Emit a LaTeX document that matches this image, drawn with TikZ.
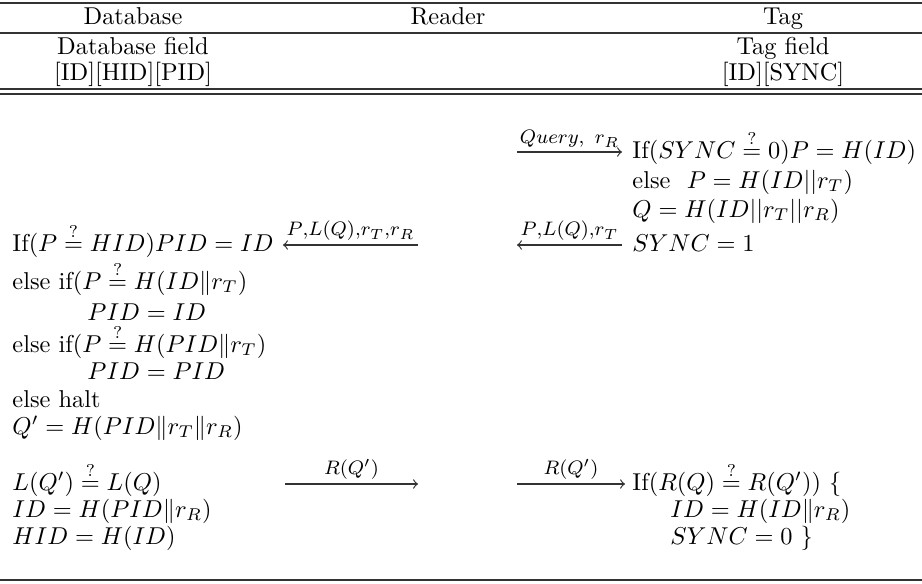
\documentclass[tikz,border=0pt]{standalone}
\usepackage{amsmath,amssymb}
\usepackage{tikz}
\usetikzlibrary{arrows}
\newcommand{\qeq}{\mathrel{\smash{\stackrel{?}{=}}}}

\begin{document}
\begin{tikzpicture}[x=0.41pt, y=-0.41pt]
	% STYLES
	\tikzstyle{regle} = [line width=0.5pt, draw=black!80]
	\tikzstyle{grosregle} = [line width=0.8pt, draw=black!80]
	\tikzstyle{titre} = [anchor=base, inner sep=0pt]
	\tikzstyle{ligne} = [anchor=base west, inner sep=0pt]
	\tikzstyle{msg} = [line width=0.5pt, ->, draw=black!80]
	\tikzstyle{etiq} = [above, inner sep=1.5pt, font=\footnotesize]

	\useasboundingbox (0, 0) rectangle (922, 583);

	% RULES
	\draw[grosregle] (0, 3) -- (922, 3);
	\draw[regle] (0, 33) -- (922, 33);
	\draw[regle] (0, 89) -- (922, 89);
	\draw[regle] (0, 94) -- (922, 94);
	\draw[grosregle] (0, 580) -- (922, 580);

	% HEADER
	\node[titre] (hdb) at (133, 24) {Database};
	\node[titre] (hreader) at (448, 24) {Reader};
	\node[titre] (htag) at (783, 24) {Tag};
	\node[titre] (fdb) at (133, 54) {Database field};
	\node[titre] (vdb) at (133, 80) {[ID][HID][PID]};
	\node[titre] (ftag) at (783, 54) {Tag field};
	\node[titre] (vtag) at (783, 80) {[ID][SYNC]};

	% TAG
	\node[ligne] (t1) at (632, 158) {If($SYNC \qeq 0$)$P = H(ID)$};
	\node[ligne] (t2) at (632, 188) {else\ \ $P = H(ID||r_T)$};
	\node[ligne] (t3) at (632, 217) {$Q = H(ID||r_T||r_R)$};
	\node[ligne] (t4) at (632, 251) {$SYNC = 1$};
	\node[ligne] (t5) at (632, 490) {If($R(Q) \qeq R(Q')$) \{};
	\node[ligne] (t6) at (670, 517) {$ID = H(ID\|r_R)$};
	\node[ligne] (t7) at (670, 544) {$SYNC = 0$ \}};

	% DATABASE
	\node[ligne] (d1) at (12, 251) {If($P \qeq HID$)$PID = ID$};
	\node[ligne] (d2) at (12, 289) {else if($P \qeq H(ID\|r_T)$};
	\node[ligne] (d3) at (87, 320) {$PID = ID$};
	\node[ligne] (d4) at (12, 352) {else if($P \qeq H(PID\|r_T)$};
	\node[ligne] (d5) at (87, 379) {$PID = PID$};
	\node[ligne] (d6) at (12, 407) {else halt};
	\node[ligne] (d7) at (12, 434) {$Q' = H(PID\|r_T\|r_R)$};
	\node[ligne] (d8) at (12, 490) {$L(Q') \qeq L(Q)$};
	\node[ligne] (d9) at (12, 517) {$ID = H(PID\|r_R)$};
	\node[ligne] (d10) at (12, 544) {$HID = H(ID)$};

	% MESSAGES
	\coordinate (q1) at (517, 152);
	\coordinate (q2) at (622, 152);
	\draw[msg] (q1) -- node[etiq] {$Query,\ r_R$} (q2);

	\coordinate (p1) at (622, 245);
	\coordinate (p2) at (517, 245);
	\draw[msg] (p1) -- node[etiq] {$P{,}L(Q){,}r_T$} (p2);
	\coordinate (p3) at (418, 245);
	\coordinate (p4) at (283, 245);
	\draw[msg] (p3) -- node[etiq] {$P{,}L(Q){,}r_T{,}r_R$} (p4);

	\coordinate (r1) at (285, 484);
	\coordinate (r2) at (418, 484);
	\draw[msg] (r1) -- node[etiq] {$R(Q')$} (r2);
	\coordinate (r3) at (517, 484);
	\coordinate (r4) at (625, 484);
	\draw[msg] (r3) -- node[etiq] {$R(Q')$} (r4);

\end{tikzpicture}
\end{document}
